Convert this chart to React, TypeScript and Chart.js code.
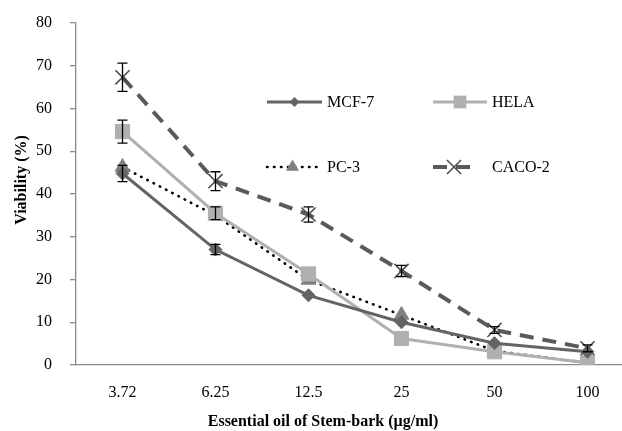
import React, { useEffect, useRef } from 'react';
import { Chart, registerables } from 'chart.js';
Chart.register(...registerables);

const concentrations = ['3.72', '6.25', '12.5', '25', '50', '100'];
const mcf7 = [44.8, 27.0, 16.3, 10.0, 5.1, 3.1];
const hela = [54.6, 35.5, 21.3, 6.2, 3.1, 0.5];
const pc3 = [46.3, 35.0, 19.9, 11.7, 3.3, 0.5];
const caco2 = [67.3, 43.0, 35.2, 22.0, 8.2, 3.9];
const mcf7Err = [1.9, 1.2, 0, 0, 0, 0];
const helaErr = [2.7, 1.5, 0, 0, 0, 0];
const pc3Err = [0, 0, 0, 0, 0, 0];
const caco2Err = [3.3, 2.2, 1.8, 1.3, 0.8, 0.8];
const yMin = 0;
const yMax = 80;
const yStep = 10;
const xTitle = 'Essential oil of Stem-bark (µg/ml)';
const yTitle = 'Viability (%)';

const FONT = "'Liberation Serif', 'Times New Roman', serif";

const toPoints = (vals: number[]) => vals.map((v, i) => ({ x: i, y: v }));

const errorBarPlugin = {
  id: 'errorBars',
  afterDatasetsDraw(chart: any) {
    const ctx = chart.ctx;
    const ys = chart.scales.y;
    ctx.save();
    ctx.strokeStyle = '#000';
    ctx.lineWidth = 1.3;
    chart.data.datasets.forEach((ds: any, i: number) => {
      const meta = chart.getDatasetMeta(i);
      const errs = ds.errors || [];
      meta.data.forEach((pt: any, j: number) => {
        const e = errs[j];
        if (!e) return;
        const v = ds.data[j].y;
        const top = ys.getPixelForValue(v + e);
        const bot = ys.getPixelForValue(v - e);
        const x = pt.x;
        ctx.beginPath();
        ctx.moveTo(x, top);
        ctx.lineTo(x, bot);
        ctx.moveTo(x - 5, top);
        ctx.lineTo(x + 5, top);
        ctx.moveTo(x - 5, bot);
        ctx.lineTo(x + 5, bot);
        ctx.stroke();
      });
    });
    ctx.restore();
  },
};

function drawMarker(ctx: CanvasRenderingContext2D, style: string, x: number, y: number, r: number, fill: string, stroke: string, lw: number) {
  ctx.save();
  ctx.setLineDash([]);
  ctx.fillStyle = fill;
  ctx.strokeStyle = stroke;
  ctx.lineWidth = lw;
  ctx.beginPath();
  if (style === 'rectRot') {
    ctx.moveTo(x, y - r);
    ctx.lineTo(x + r, y);
    ctx.lineTo(x, y + r);
    ctx.lineTo(x - r, y);
    ctx.closePath();
    ctx.fill();
  } else if (style === 'rect') {
    const s = r * Math.SQRT1_2;
    ctx.rect(x - s, y - s, 2 * s, 2 * s);
    ctx.fill();
  } else if (style === 'triangle') {
    ctx.moveTo(x, y - r);
    ctx.lineTo(x + r * 0.87, y + r * 0.5);
    ctx.lineTo(x - r * 0.87, y + r * 0.5);
    ctx.closePath();
    ctx.fill();
  } else if (style === 'crossRot') {
    const d = r * Math.SQRT1_2;
    ctx.moveTo(x - d, y - d);
    ctx.lineTo(x + d, y + d);
    ctx.moveTo(x + d, y - d);
    ctx.lineTo(x - d, y + d);
    ctx.stroke();
  }
  ctx.restore();
}

const legendPlugin = {
  id: 'innerLegend',
  afterDraw(chart: any) {
    const ctx = chart.ctx;
    const area = chart.chartArea;
    const cols = [area.left + 191, area.left + 357];
    const rows = [area.top + 79, area.top + 144];
    const sampleW = [55, 54, 51, 42];
    const textGap = [60, 59, 60, 59];
    ctx.save();
    chart.data.datasets.forEach((ds: any, i: number) => {
      const x0 = cols[i % 2];
      const y = rows[Math.floor(i / 2)];
      const w = sampleW[i];
      ctx.save();
      ctx.strokeStyle = ds.borderColor;
      ctx.lineWidth = ds.borderWidth;
      ctx.lineCap = ds.borderCapStyle || 'butt';
      ctx.setLineDash(ds.borderDash || []);
      ctx.beginPath();
      ctx.moveTo(x0, y);
      ctx.lineTo(x0 + w, y);
      ctx.stroke();
      ctx.restore();
      drawMarker(ctx, ds.pointStyle, x0 + w / 2, y, ds.legendRadius, ds.pointBackgroundColor, ds.pointBorderColor, ds.pointBorderWidth);
      ctx.fillStyle = '#000';
      ctx.font = `16px ${FONT}`;
      ctx.textBaseline = 'middle';
      ctx.textAlign = 'left';
      ctx.fillText(ds.label, x0 + textGap[i], y + 1);
    });
    ctx.restore();
  },
};

const axisTitlePlugin = {
  id: 'axisTitles',
  afterDraw(chart: any) {
    const ctx = chart.ctx;
    const area = chart.chartArea;
    ctx.save();
    ctx.fillStyle = '#000';
    ctx.font = `bold 16px ${FONT}`;
    ctx.textAlign = 'center';
    ctx.textBaseline = 'middle';
    ctx.fillText(xTitle, area.left + 247, chart.height - 9);
    ctx.translate(22, area.top + 157);
    ctx.rotate(-Math.PI / 2);
    ctx.fillText(yTitle, 0, 0);
    ctx.restore();
  },
};

export default function App() {
  const ref = useRef<HTMLCanvasElement>(null);
  useEffect(() => {
    if (!ref.current) return;
    const chart = new Chart(ref.current, {
      type: 'line',
      data: {
        datasets: [
          {
            label: 'MCF-7',
            data: toPoints(mcf7),
            errors: mcf7Err,
            borderColor: '#646464',
            borderWidth: 3,
            pointStyle: 'rectRot',
            pointRadius: 6.5,
            legendRadius: 5,
            pointBackgroundColor: '#646464',
            pointBorderColor: '#646464',
            pointBorderWidth: 1,
            tension: 0,
          },
          {
            label: 'HELA',
            data: toPoints(hela),
            errors: helaErr,
            borderColor: '#b0b0b0',
            borderWidth: 3,
            pointStyle: 'rect',
            pointRadius: 10,
            legendRadius: 9,
            pointBackgroundColor: '#b0b0b0',
            pointBorderColor: '#b0b0b0',
            pointBorderWidth: 1,
            tension: 0,
          },
          {
            label: 'PC-3',
            data: toPoints(pc3),
            errors: pc3Err,
            borderColor: '#000000',
            borderWidth: 2.6,
            borderDash: [0.5, 6.5],
            borderCapStyle: 'round',
            pointStyle: 'triangle',
            pointRadius: 8.5,
            legendRadius: 7.5,
            pointBackgroundColor: '#808080',
            pointBorderColor: '#808080',
            pointBorderWidth: 1,
            tension: 0,
          },
          {
            label: 'CACO-2',
            data: toPoints(caco2),
            errors: caco2Err,
            borderColor: '#5a5a5a',
            borderWidth: 4,
            borderDash: [14, 9],
            pointStyle: 'crossRot',
            pointRadius: 10,
            legendRadius: 10,
            pointBackgroundColor: '#5a5a5a',
            pointBorderColor: '#4a4a4a',
            pointBorderWidth: 1.5,
            tension: 0,
          },
        ] as any,
      },
      options: {
        responsive: false,
        animation: false,
        layout: { autoPadding: false, padding: { top: 23, right: 0, left: 0, bottom: 0 } },
        plugins: { legend: { display: false }, tooltip: { enabled: false } },
        scales: {
          x: {
            type: 'linear',
            min: -0.5,
            max: 5.371,
            afterBuildTicks: (s: any) => {
              s.ticks = concentrations.map((_, i) => ({ value: i }));
            },
            afterFit: (s: any) => {
              s.height = 66;
              s.paddingLeft = 0;
              s.paddingRight = 0;
            },
            ticks: {
              color: '#000',
              font: { family: FONT, size: 16 },
              padding: 18,
              callback: (v: any) => concentrations[v] ?? '',
              maxRotation: 0,
              autoSkip: false,
            },
            grid: { display: false, drawTicks: false },
            border: { display: true, color: '#8a8a8a', width: 1.3 },
          },
          y: {
            min: yMin,
            max: yMax,
            afterFit: (s: any) => {
              s.width = 76;
              s.paddingTop = 0;
              s.paddingBottom = 0;
            },
            ticks: {
              stepSize: yStep,
              color: '#000',
              font: { family: FONT, size: 16 },
              padding: 18,
            },
            grid: {
              drawOnChartArea: false,
              drawTicks: true,
              tickLength: 6,
              color: '#8a8a8a',
              lineWidth: 1.3,
            },
            border: { display: true, color: '#8a8a8a', width: 1.3 },
          },
        },
      },
      plugins: [errorBarPlugin, legendPlugin, axisTitlePlugin],
    } as any);
    return () => chart.destroy();
  }, []);
  return (
    <div style={{ position: 'absolute', left: 0, top: 0, width: 622, height: 431, background: '#fff' }}>
      <canvas ref={ref} width={622} height={431} />
    </div>
  );
}
